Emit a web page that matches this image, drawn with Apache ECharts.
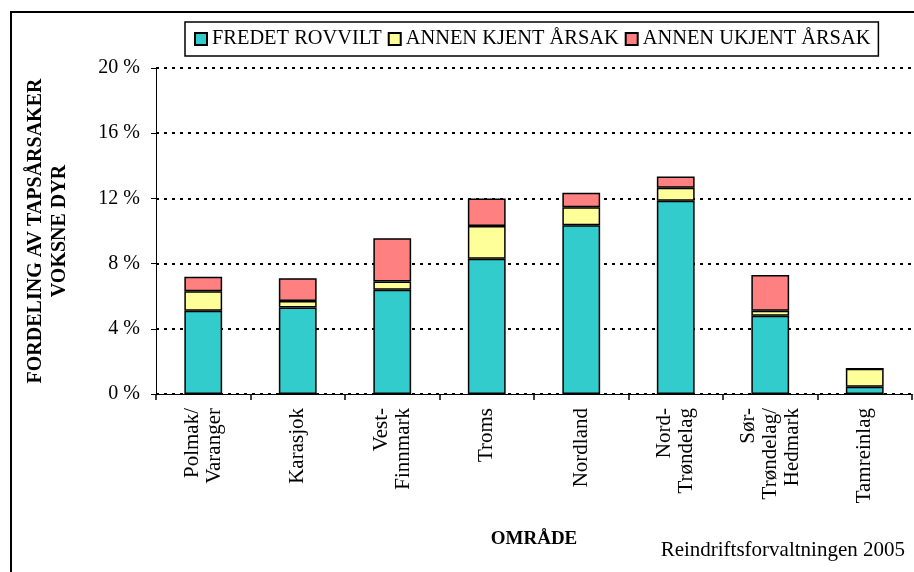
<!DOCTYPE html>
<html>
<head>
<meta charset="utf-8">
<script src="https://cdn.jsdelivr.net/npm/echarts@6/dist/echarts.min.js"></script>
<style>
  html, body { margin: 0; padding: 0; background: #fff; }
  #chart { width: 914px; height: 572px; }
</style>
</head>
<body>
<div id="chart"></div>
<script>
var categories = ['Polmak/\nVaranger', 'Karasjok', 'Vest-\nFinnmark', 'Troms', 'Nordland',
                  'Nord-\nTrøndelag', 'Sør-\nTrøndelag/\nHedmark', 'Tamreinlag'];
var fredetRovvilt = [5.1, 5.3, 6.4, 8.3, 10.35, 11.85, 4.8, 0.45];
var annenKjent = [1.2, 0.4, 0.5, 2.0, 1.1, 0.8, 0.3, 1.1];
var annenUkjent = [0.9, 1.4, 2.65, 1.7, 0.9, 0.7, 2.2, 0];
var seriesNames = ['FREDET ROVVILT', 'ANNEN KJENT ÅRSAK', 'ANNEN UKJENT ÅRSAK'];
var colors = ['#33CCCC', '#FFFF99', '#FF8080'];

var serif = 'Liberation Serif';
var chart = echarts.init(document.getElementById('chart'));

function barSeries(name, data, color) {
    return {
        name: name,
        type: 'bar',
        stack: 'total',
        barWidth: '40%',
        data: data,
        itemStyle: { color: color, borderColor: '#000', borderWidth: 1.5 },
        emphasis: { disabled: true }
    };
}

var option = {
    animation: false,
    textStyle: { fontFamily: serif },
    legend: {
        left: 185,
        top: 22,
        padding: [7, 8, 7, 9],
        borderColor: '#000',
        borderWidth: 1.5,
        itemWidth: 12,
        itemHeight: 12,
        itemGap: 6,
        icon: 'rect',
        textStyle: { fontFamily: serif, fontSize: 20.4, color: '#000' },
        data: seriesNames
    },
    grid: { left: 156, right: 2, top: 68, bottom: 178 },
    xAxis: {
        type: 'category',
        data: categories,
        name: 'OMRÅDE',
        nameLocation: 'middle',
        nameGap: 136,
        nameTextStyle: { fontFamily: serif, fontSize: 19, fontWeight: 'bold', color: '#000' },
        axisLine: { lineStyle: { color: '#000', width: 1 } },
        axisTick: { show: true, length: 6, lineStyle: { color: '#000', width: 1.5 } },
        axisLabel: {
            interval: 0,
            rotate: 90,
            margin: 14,
            fontFamily: serif,
            fontSize: 21,
            lineHeight: 22,
            color: '#000'
        }
    },
    yAxis: {
        type: 'value',
        min: 0,
        max: 20,
        interval: 4,
        name: 'FORDELING AV TAPSÅRSAKER\nVOKSNE DYR',
        nameLocation: 'middle',
        nameGap: 84,
        nameTextStyle: { fontFamily: serif, fontSize: 20, fontWeight: 'bold', color: '#000', lineHeight: 24 },
        axisLine: { show: true, lineStyle: { color: '#000', width: 1 } },
        axisTick: { show: true, length: 5, lineStyle: { color: '#000', width: 1 } },
        axisLabel: {
            formatter: '{value} %',
            margin: 16,
            fontFamily: serif,
            fontSize: 20,
            color: '#000'
        },
        splitLine: { lineStyle: { color: '#000', width: 2, type: [3, 5] } }
    },
    graphic: [
        {
            type: 'polyline',
            shape: { points: [[11, 600], [11, 12], [920, 12]] },
            style: { fill: null, stroke: '#000', lineWidth: 2 },
            silent: true
        },
        {
            type: 'text',
            right: 9,
            top: 540,
            style: { text: 'Reindriftsforvaltningen 2005', font: '21px "Liberation Serif"', fill: '#000' }
        }
    ],
    series: [
        barSeries(seriesNames[0], fredetRovvilt, colors[0]),
        barSeries(seriesNames[1], annenKjent, colors[1]),
        barSeries(seriesNames[2], annenUkjent, colors[2])
    ]
};
chart.setOption(option);
</script>
</body>
</html>
